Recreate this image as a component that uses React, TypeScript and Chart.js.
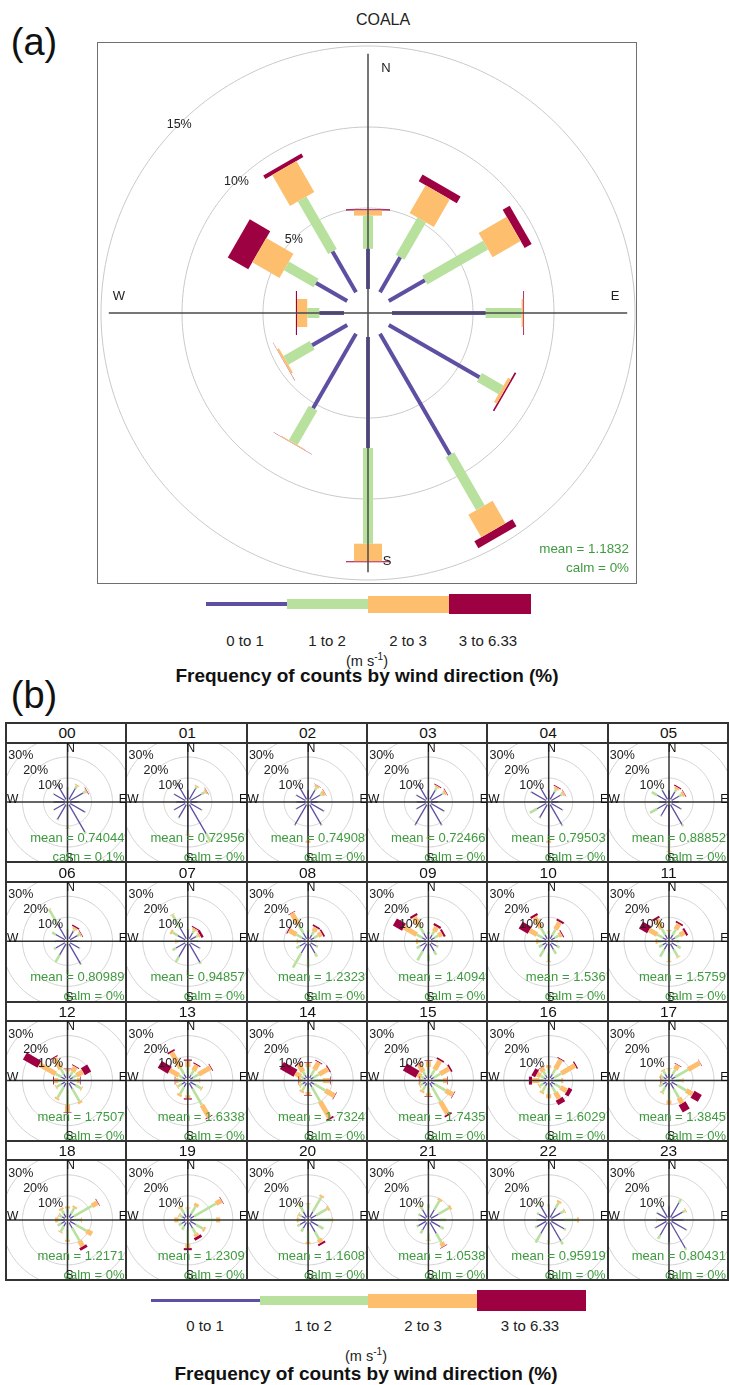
import React, { useEffect, useRef } from "react";
import { Chart, registerables } from "chart.js";
Chart.register(...registerables);

// ---------- data ----------
const directions = [0, 30, 60, 90, 120, 150, 180, 210, 240, 270, 300, 330];
const speedBins = ["0 to 1", "1 to 2", "2 to 3", "3 to 6.33"];
const binColors = ["#5E4FA2", "#B9E19E", "#FDBE6E", "#9E0142"];
const mainTicks = [5, 10, 15];
const smallTicks = [10, 20, 30];

// panel (a) COALA, % of counts per direction for each speed bin
const coala0to1 = [2.48, 2.49, 2.57, 5.78, 6.46, 8.63, 6.85, 5.3, 2.5, 1.52, 2.22, 2.9];
const coala1to2 = [2.05, 2.66, 4.33, 2.22, 1.54, 3.77, 5.91, 2.45, 1.87, 0.75, 2.11, 3.75];
const coala2to3 = [0.32, 1.98, 2.0, 0.1, 0.2, 1.6, 1.08, 0.05, 0.13, 0.63, 1.94, 2.2];
const coala3to6 = [0.07, 0.47, 0.5, 0.05, 0.1, 0.5, 0.06, 0.02, 0.02, 0.07, 1.46, 0.25];
const coalaMean = "1.1832";
const coalaCalm = "0%";

// panel (b) hourly roses: per direction [0-1, 1-2, 2-3, 3-6.33]
const hours = ["00","01","02","03","04","05","06","07","08","09","10","11","12","13","14","15","16","17","18","19","20","21","22","23"];
const hourlyMeans = ["0.74044","0.72956","0.74908","0.72466","0.79503","0.88852","0.80989","0.94857","1.2323","1.4094","1.536","1.5759","1.7507","1.6338","1.7324","1.7435","1.6029","1.3845","1.2171","1.2309","1.1608","1.0538","0.95919","0.80431"];
const hourlyCalms = ["0.1%","0%","0%","0%","0%","0%","0%","0%","0%","0%","0%","0%","0%","0%","0%","0%","0%","0%","0%","0%","0%","0%","0%","0%"];

const h00 = [[5,0.5,0,0],[6,1.5,0.5,0],[7,1.5,0.5,0.3],[4,0.3,0,0],[8,0.5,0,0],[15,1,0,0],[10,1,0.3,0],[8,0.5,0,0],[6,0.3,0,0],[5,0.3,0,0],[6,0.5,0,0],[8,0.5,0,0]];
const h01 = [[4,0.3,0,0],[6,1,0.5,0],[6,2,0.8,0.2],[3,0.3,0,0],[6,0.5,0,0],[16,4,0.3,0],[12,2,0.5,0],[7,0.5,0,0],[6,0.3,0,0],[4,0.2,0,0],[6,0.3,0,0],[9,0.5,0,0]];
const h02 = [[4,0.3,0,0],[5,1.5,1,0.2],[5,1,1.5,0.2],[3,0.3,0,0],[7,0.5,0,0],[11,0.5,0,0],[15,2,1,0],[11,0.5,0,0],[5,0.3,0,0],[4,0.2,0,0],[5,0.3,0,0],[7,0.5,0,0]];
const h03 = [[4,0.3,0,0],[5,1.5,0.8,0.4],[6,1,1,0.3],[3,0.2,0,0],[7,0.5,0,0],[11,0.5,0,0],[14,1.5,0.5,0],[11,0.5,0,0],[5,0.3,0,0],[4,0.2,0,0],[5,0.3,0,0],[8,0.5,0,0]];
const h04 = [[4,0.3,0,0],[4,1.5,1,0.5],[5,1,1,0.2],[3,0.3,0,0],[6,0.5,0,0],[11,0.8,0,0],[14,3,1,0],[7,0.5,0,0],[5,4,0,0],[3,0.3,0,0],[8,0.5,0,0],[6,0.5,0,0]];
const h05 = [[4,0.3,0,0],[4,1.5,1,0.6],[4,1.5,1.2,0.3],[3,0.3,0,0],[5,0.5,0,0],[11,1,0,0],[14,8,0.5,0],[6,0.5,0,0],[5,4,0,0],[3,0.5,0,0],[5,3,0,0],[5,0.5,0,0]];
const h06 = [[4,0.3,0,0],[4,1,1,0.7],[4,1,0.8,0.3],[3,0.3,0,0],[5,0.5,0,0],[11,0.5,0,0],[12,2,0,0],[6,4,0,0],[5,1,0,0],[4,0.5,0,0],[5,2,0,0],[8,8,0.3,0]];
const h07 = [[4,0.5,0,0],[3,1.5,1,0.5],[3,1,1,1.2],[3,0.5,0,0],[5,0.5,0,0],[10,1,0,0],[12,3,0,0],[7,3,0,0],[5,2,0,0],[3,1,0.5,0],[4,3,1,0],[6,7,0.5,0]];
const h08 = [[3,1,0,0],[2,2,2,0.8],[2,2,2,0.8],[2,1,0,0],[3,1,0,0],[5,2,0,0],[7,4,0,0],[5,8,0,0],[3,2,0,0],[2,1.5,0.5,0],[2,3,4,0.5],[3,5,6,0.3]];
const h09 = [[2,1,0,0],[2,2,2.5,1],[2,2,2,1],[2,1,0,0],[3,1,0,0],[4,2,0,0],[5,3,0,0],[4,5,0,0],[3,2,0,0],[2,1.5,1,0],[2,3,7,5],[3,4,5,1]];
const h10 = [[2,1.5,0,0],[2,3,4,1],[2,2,1.5,0.5],[2,1,0,0],[3,1.5,0,0],[3,2.5,0,0],[4,4,0.5,0],[3,4,0,0],[2,2,0,0],[2,1.5,1,0],[2,3,4,5],[2,4,6,1]];
const h11 = [[2,1.5,0.5,0],[2,3,3,0.8],[2,2.5,2.5,1],[2,1.5,0,0],[3,2,0,0],[3,4,0.5,0],[4,4,0.5,0],[3,4,0,0],[2,2,0,0],[2,2,1,0],[2,3,4.5,4.5],[2,3.5,5,1]];
const h12 = [[1.5,1.5,1,0.3],[1.5,2,2.5,0.5],[1.5,2,3.5,3.5],[1.5,1.5,1.5,0.3],[3,3,0.5,0],[3,7,1,0],[3,7,3.5,0.3],[2,6,1,0],[2,2.5,0.5,0],[1.5,1.5,2,0.4],[2,3,9,8],[2,3,6,0.5]];
const h13 = [[2,3,3,0.6],[1.5,2.5,3,0.5],[1.5,3,6.5,0.4],[1.5,2.5,0.5,0],[3,3,0.5,0],[3,9,6.5,0.3],[2.5,3,1.5,0.6],[2,4,1,0],[2,2,0.5,0],[1.5,1.5,1.5,0.3],[1.5,2,5,5.5],[2,3.5,8.5,0.8]];
const h14 = [[2,3,2,0.3],[1.5,3,4,0.5],[1.5,3,5,0.5],[1.5,4,3.5,0.3],[2,6,5,0.3],[2,8,9,0.8],[2,2,1.5,0.3],[1.5,2.5,1,0],[1.5,1.5,0.5,0],[1,1,1,0.3],[1,1.5,3,7.5],[1.5,2,4,0.5]];
const h15 = [[2,3,3,0.3],[1.5,3,5,0.8],[1.5,3.5,5,0.8],[1.5,4,2,0.3],[2,6,4,0.3],[2,8,7,0.8],[2,2.5,1.5,0.3],[1.5,2.5,1,0],[1.5,1.5,0.5,0],[1,1,0.8,0.3],[1,1.5,2,7],[1.5,2,4,0.5]];
const h16 = [[2,2.5,1.5,0],[2,3,5,0.5],[1.5,4,7.5,0.6],[1.5,3,1,0],[2,3,3.5,2],[2,3,3.5,2.5],[2,3,2,0],[1.5,3,1,0],[1.5,2,0.5,0],[1,2,3.5,1.5],[1,2,2,2],[1.5,2,2,0.3]];
const h17 = [[2,2,0.5,0],[2,2.5,2.5,0.3],[2,7,6.5,0.2],[2,3,0.5,0],[3,5,3.5,4],[3,5,3,4],[3,5,2,0],[2,3,0.5,0],[2,2,0,0],[1,0.7,0.7,0.2],[1.5,1.5,0.5,0],[2,2,0.5,0]];
const h18 = [[2,2,1,0],[2,3,1,0],[2,10,3,0.3],[2,3,0.5,0],[3,6,3,0],[3,7,3,1.5],[3,5,1,0],[2,3,0.5,0],[2,2,0,0],[1.5,1.5,1.5,0],[1.5,1.5,0.5,0],[2,2,1,0]];
const h19 = [[2,2,0.5,0],[2,4,1.5,0],[2,12,3,0.3],[2,10,2,0],[3,4,1,0],[3,3,1.5,1.5],[3,7,2,1],[2,2,0,0],[2,1.5,0,0],[1.5,1.5,2,0],[1.5,1.5,0.5,0],[2,3,1,0]];
const h20 = [[3,3,0.5,0],[3,8,1,0],[3,6,1,0],[3,7,0.5,0],[4,3,0,0],[5,4,2,1],[4,5,1,0],[3,2,0,0],[3,1.5,0,0],[2,1,1,0],[2,1.5,0.5,0],[3,4,0.5,0]];
const h21 = [[4,2,0,0],[4,5,1,0],[4,6,1,0],[4,3,0,0],[5,2,0,0],[6,5,2,0.3],[5,3,0.5,0],[4,2,0,0],[4,1,0,0],[3,0.5,0,0],[3,1,0,0],[4,2,0.5,0]];
const h22 = [[5,1,0,0],[5,3,1,0],[5,2,0.5,0],[6,6,1,0],[7,1,0,0],[10,2,0,0],[8,2,0,0],[6,5,0,0],[5,1,0,0],[4,0.5,0,0],[4,1,0,0],[6,2,0,0]];
const h23 = [[5,0.5,0,0],[8,2,0,0],[6,1.5,0.5,0],[5,0.5,0,0],[8,0.5,0,0],[14,1,0,0],[9,1,0,0],[7,2,0,0],[6,0.5,0,0],[4,0.5,0.3,0],[5,0.5,0,0],[6,1,0,0]];
const hourly = [h00,h01,h02,h03,h04,h05,h06,h07,h08,h09,h10,h11,h12,h13,h14,h15,h16,h17,h18,h19,h20,h21,h22,h23];

// ---------- drawing ----------
const FONT = '"Liberation Sans", Arial, Helvetica, sans-serif';
const GREEN = "#3f9a3f";

type RoseProps = {
  values: number[][];
  left: number; top: number; width: number; height: number;
  cx: number; cy: number; px: number; off: number;
  rings: number[]; barWidths: number[];
  axisExt: number; axisColor: string; axisWidth: number; ringColor: string;
};

function Rose(p: RoseProps) {
  const ref = useRef<HTMLCanvasElement>(null);
  useEffect(() => {
    const canvas = ref.current;
    if (!canvas) return;
    // borderDash with a zero gap keeps the stroke solid and makes Chart.js use the exact path
    const base = { showLine: true, pointRadius: 0, pointHoverRadius: 0, fill: false, tension: 0, borderDash: [4000, 0] };
    const datasets: any[] = [];
    datasets.push({ ...base, order: 0, data: [{ x: 0, y: -p.axisExt }, { x: 0, y: p.axisExt }], borderColor: p.axisColor, borderWidth: p.axisWidth });
    datasets.push({ ...base, order: 0, data: [{ x: -p.axisExt, y: 0 }, { x: p.axisExt, y: 0 }], borderColor: p.axisColor, borderWidth: p.axisWidth });
    directions.forEach((deg, i) => {
      const a = (deg * Math.PI) / 180;
      let cum = 0;
      p.values[i].forEach((v, b) => {
        if (!(v > 0)) return;
        const r0 = p.off + cum;
        const r1 = p.off + cum + v;
        cum += v;
        datasets.push({
          ...base, order: 1,
          data: [{ x: r0 * Math.sin(a), y: r0 * Math.cos(a) }, { x: r1 * Math.sin(a), y: r1 * Math.cos(a) }],
          borderColor: binColors[b], borderWidth: p.barWidths[b], borderCapStyle: "butt", borderJoinStyle: "bevel",
        });
      });
    });
    p.rings.forEach((t) => {
      const r = p.off + t;
      const pts: { x: number; y: number }[] = [];
      for (let k = 0; k <= 240; k++) {
        const a = (k / 240) * 2 * Math.PI;
        pts.push({ x: r * Math.sin(a), y: r * Math.cos(a) });
      }
      datasets.push({ ...base, order: 2, data: pts, borderColor: p.ringColor, borderWidth: 1 });
    });
    const chart = new Chart(canvas, {
      type: "scatter",
      data: { datasets },
      options: {
        animation: false,
        responsive: false,
        events: [],
        layout: { padding: 0 },
        plugins: { legend: { display: false }, tooltip: { enabled: false }, title: { display: false } },
        scales: {
          x: { type: "linear", display: false, min: -p.cx / p.px, max: (p.width - p.cx) / p.px },
          y: { type: "linear", display: false, min: -(p.height - p.cy) / p.px, max: p.cy / p.px },
        },
      } as any,
    });
    return () => chart.destroy();
  }, []);
  return (
    <canvas
      ref={ref}
      width={p.width}
      height={p.height}
      style={{ position: "absolute", left: p.left, top: p.top, width: p.width, height: p.height }}
    />
  );
}

function Label(props: { x: number; y: number; size: number; color?: string; align?: "left" | "center" | "right"; bold?: boolean; children: React.ReactNode }) {
  const { x, y, size, color = "#111", align = "center", bold = false } = props;
  const tx = align === "center" ? "-50%" : align === "right" ? "-100%" : "0";
  return (
    <div
      style={{
        position: "absolute", left: x, top: y - size / 2, fontSize: size, lineHeight: `${size}px`, height: size,
        color, fontWeight: bold ? 700 : 400, fontFamily: FONT, whiteSpace: "nowrap", transform: `translateX(${tx})`,
      }}
    >
      {props.children}
    </div>
  );
}

function Legend(props: { x0: number; segW: number; cy: number; thick: number[]; labelY: number; unitY: number; titleY: number; labelSize: number; titleSize: number; labelX: number[]; unitX: number; titleX: number }) {
  const { x0, segW, cy, thick } = props;
  return (
    <>
      {speedBins.map((b, i) => (
        <div key={"seg" + i} style={{ position: "absolute", left: x0 + segW * i, top: cy - thick[i] / 2, width: segW + 0.5, height: thick[i], background: binColors[i] }} />
      ))}
      {speedBins.map((b, i) => (
        <Label key={"lb" + i} x={props.labelX[i]} y={props.labelY} size={props.labelSize} color="#222">{b}</Label>
      ))}
      <Label x={props.unitX} y={props.unitY} size={props.labelSize - 0.5} color="#222">
        (m s<span style={{ fontSize: "0.7em", verticalAlign: "0.55em" }}>-1</span>)
      </Label>
      <Label x={props.titleX} y={props.titleY} size={props.titleSize} bold color="#111">Frequency of counts by wind direction (%)</Label>
    </>
  );
}

export default function App() {
  // main rose geometry
  const M = { left: 99, top: 44, width: 537, height: 538, cx: 269, cy: 269, px: 16.2, off: 24 / 16.2 };
  const mcx = M.left + M.cx;
  const mcy = M.top + M.cy;
  const mainValues = directions.map((_, i) => [coala0to1[i], coala1to2[i], coala2to3[i], coala3to6[i]]);

  // small rose grid geometry
  const gridLeft = 6, colW = 120.3, gridTop = 723, rowH = 139.3, strip = 19.5;
  const SPX = 2.1, SOFF = 3 / 2.1;

  const panels = hours.map((h, k) => {
    const c = k % 6, r = Math.floor(k / 6);
    const L = gridLeft + colW * c;
    const S = gridTop + rowH * r;
    const T = S + strip;
    const cx = L + 61.5, cy = T + 59.5;
    const cl = Math.round(L), ct = Math.round(T);
    return { h, k, L, S, T, cx, cy, cl, ct };
  });

  const hLines: number[] = [gridTop];
  for (let r = 0; r < 4; r++) { hLines.push(gridTop + rowH * r + strip); hLines.push(gridTop + rowH * (r + 1)); }
  const vLines: number[] = [];
  for (let c = 0; c <= 6; c++) vLines.push(gridLeft + colW * c);

  return (
    <div style={{ position: "absolute", left: 0, top: 0, width: 729, height: 1385, background: "#fff", overflow: "hidden", fontFamily: FONT }}>
      {/* panel (a) */}
      <Label x={34} y={42} size={38} color="#111">(a)</Label>
      <Label x={383} y={20} size={16} color="#222">COALA</Label>
      <div style={{ position: "absolute", left: 97, top: 42, width: 540, height: 542, border: "1.5px solid #707070", boxSizing: "border-box" }} />
      <Rose values={mainValues} left={M.left} top={M.top} width={M.width} height={M.height} cx={M.cx} cy={M.cy} px={M.px} off={M.off}
        rings={mainTicks} barWidths={[4, 10, 28, 44]} axisExt={16.0} axisColor="#4a4a4a" axisWidth={1.5} ringColor="#c9c9c9" />
      {mainTicks.map((t) => {
        const r = (t + M.off) * M.px * 0.7071;
        return <Label key={"mt" + t} x={mcx - r} y={mcy - r} size={12.5} color="#222">{t}%</Label>;
      })}
      <Label x={mcx + 18} y={mcy - 246} size={13} color="#222">N</Label>
      <Label x={mcx + 19} y={mcy + 247} size={13} color="#222">S</Label>
      <Label x={mcx - 249} y={mcy - 18} size={13} color="#222">W</Label>
      <Label x={mcx + 247} y={mcy - 18} size={13} color="#222">E</Label>
      <Label x={629} y={549} size={13.4} align="right" color={GREEN}>mean = {coalaMean}</Label>
      <Label x={629} y={568} size={13.4} align="right" color={GREEN}>calm = {coalaCalm}</Label>
      <Legend x0={206} segW={81} cy={604} thick={[4, 10, 17, 20]} labelX={[245, 327, 408, 488]} labelY={640} unitY={657} titleY={675}
        unitX={367} titleX={367} labelSize={15} titleSize={19} />

      {/* panel (b) */}
      <Label x={34} y={695} size={38} color="#111">(b)</Label>
      {panels.map((p) => (
        <Rose key={"r" + p.k} values={hourly[p.k]} left={p.cl} top={p.ct} width={120} height={120}
          cx={p.cx - p.cl} cy={p.cy - p.ct} px={SPX} off={SOFF} rings={smallTicks} barWidths={[1.3, 2.6, 5, 8]}
          axisExt={100} axisColor="#333" axisWidth={1.5} ringColor="#cfcfcf" />
      ))}
      {hLines.map((y, i) => (
        <div key={"hl" + i} style={{ position: "absolute", left: gridLeft - 1, top: y - 1, width: 729 - gridLeft + 1, height: 2, background: "#333" }} />
      ))}
      {vLines.map((x, i) => (
        <div key={"vl" + i} style={{ position: "absolute", left: x - 1, top: gridTop - 1, width: 2, height: rowH * 4 + 2, background: "#333" }} />
      ))}
      {panels.map((p) => (
        <React.Fragment key={"t" + p.k}>
          <Label x={p.L + 61} y={p.S + 10} size={15.5} color="#111">{p.h}</Label>
          {smallTicks.map((t) => {
            const r = (t + SOFF) * SPX * 0.7071;
            return <Label key={"st" + t} x={p.cx - r} y={p.cy - r} size={12.5} color="#222">{t}%</Label>;
          })}
          <Label x={p.cx + 3} y={p.T + 5} size={12} color="#111">N</Label>
          <Label x={p.cx + 2} y={p.T + 115} size={12} color="#111">S</Label>
          <Label x={p.L + 1} y={p.cy - 3.5} size={12} align="left" color="#111">W</Label>
          <Label x={p.L + colW + 0.5} y={p.cy - 3.5} size={12} align="right" color="#111">E</Label>
          <Label x={p.L + 118.5} y={p.T + 95} size={13} align="right" color={GREEN}>mean = {hourlyMeans[p.k]}</Label>
          <Label x={p.L + 118.5} y={p.T + 114} size={13} align="right" color={GREEN}>calm = {hourlyCalms[p.k]}</Label>
        </React.Fragment>
      ))}
      <Legend x0={151} segW={108.5} cy={1300.5} thick={[3.3, 9, 14, 20.5]} labelX={[205, 313, 423, 530]} labelY={1325} unitY={1352} titleY={1373}
        unitX={366} titleX={366} labelSize={15} titleSize={19} />
    </div>
  );
}
